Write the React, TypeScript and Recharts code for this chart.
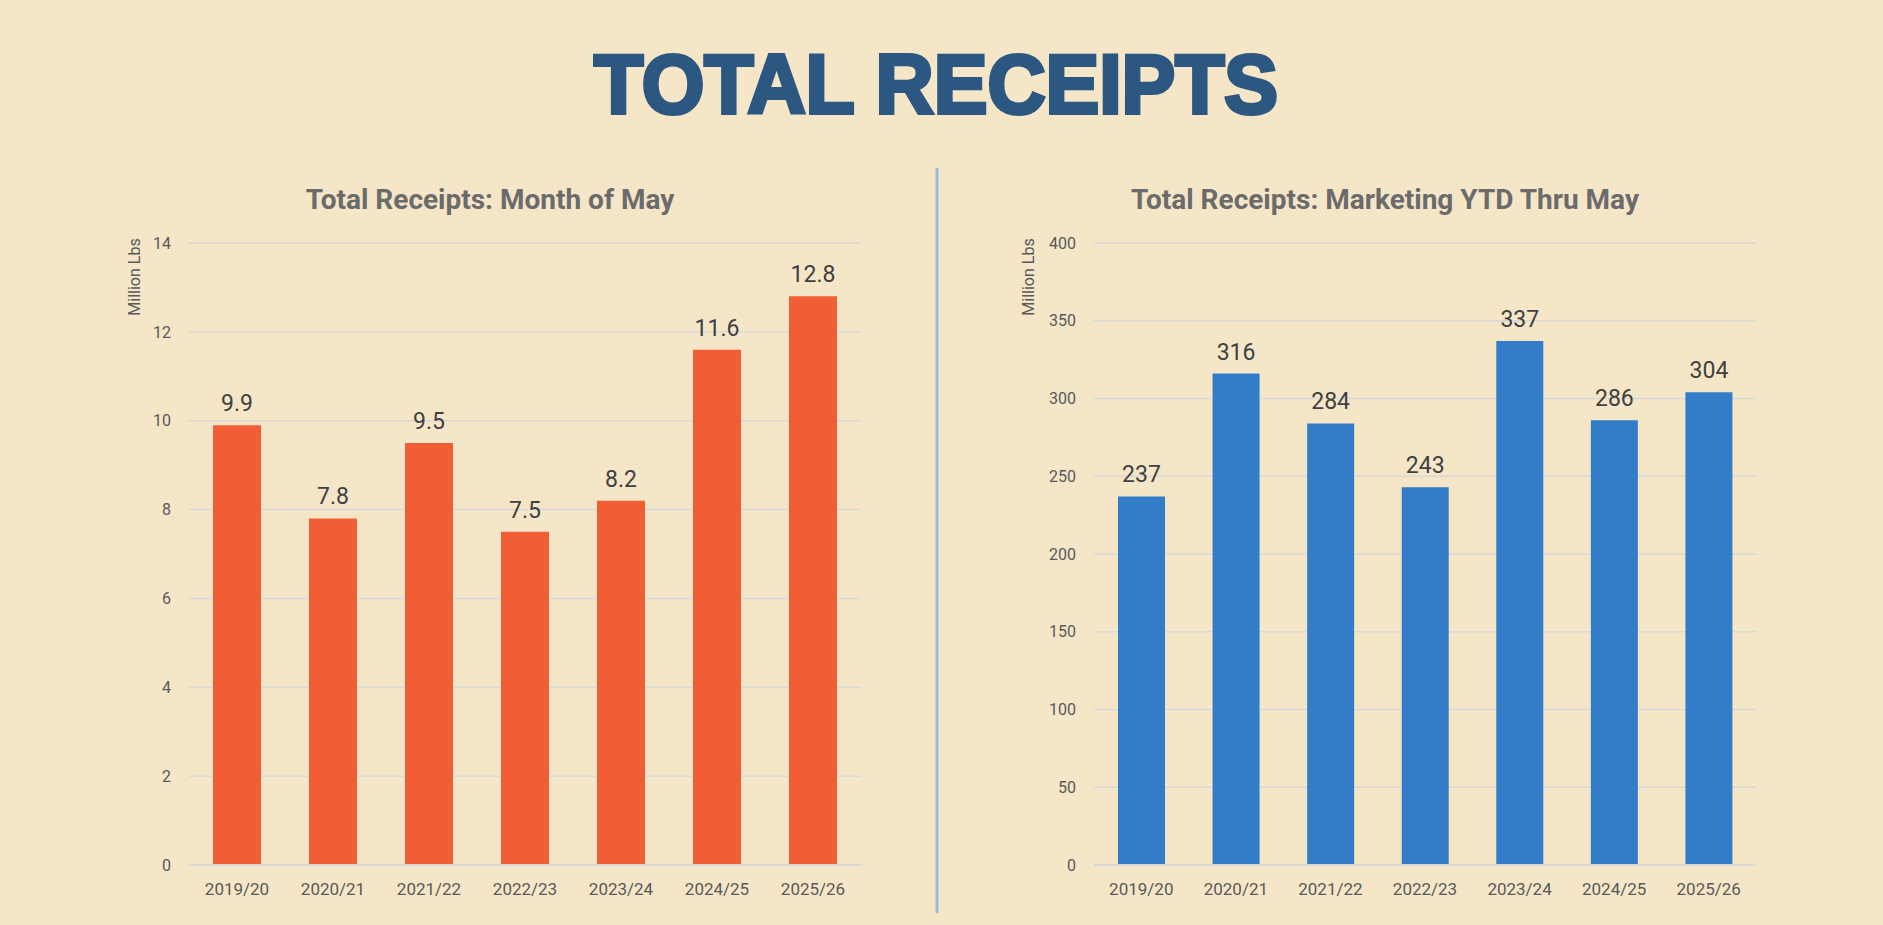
import { BarChart, Bar, XAxis, YAxis, CartesianGrid, LabelList } from "recharts";

const SEASONS = ["2019/20", "2020/21", "2021/22", "2022/23", "2023/24", "2024/25", "2025/26"];
const MAY_RECEIPTS = [9.9, 7.8, 9.5, 7.5, 8.2, 11.6, 12.8];
const YTD_RECEIPTS = [237, 316, 284, 243, 337, 286, 304];
const MAY_TICKS = [0, 2, 4, 6, 8, 10, 12, 14];
const YTD_TICKS = [0, 50, 100, 150, 200, 250, 300, 350, 400];

const BG = "#F5E6C8";
const ORANGE = "#F15E36";
const BLUE = "#337CC7";
const NAVY = "#2B5781";
const GRID = "#D9D9D9";
const TICK = "#595959";
const FONT = "Roboto, 'Liberation Sans', sans-serif";

const mayData = SEASONS.map((s, i) => ({ season: s, v: MAY_RECEIPTS[i] }));
const ytdData = SEASONS.map((s, i) => ({ season: s, v: YTD_RECEIPTS[i] }));

// ─── one panel ───────────────────────────────────────────────────────────────

function Panel({
  data, ticks, color, barSize, margin,
}: {
  data: { season: string; v: number }[];
  ticks: number[];
  color: string;
  barSize: number;
  margin: { top: number; right: number; bottom: number; left: number };
}) {
  return (
    <BarChart width={780} height={740} data={data} margin={margin} style={{ fontFamily: FONT }}>
      <CartesianGrid vertical={false} stroke={GRID} strokeWidth={1.5} />
      <XAxis
        dataKey="season"
        height={40}
        tickLine={false}
        axisLine={{ stroke: GRID, strokeWidth: 2 }}
        tickMargin={12}
        tick={{ fontSize: 17, fill: TICK }}
      />
      <YAxis
        width={50}
        domain={[0, ticks[ticks.length - 1]]}
        ticks={ticks}
        interval={0}
        tickLine={false}
        axisLine={false}
        tickMargin={12}
        tick={{ fontSize: 16, fill: TICK }}
      />
      <Bar dataKey="v" fill={color} barSize={barSize} isAnimationActive={false}>
        <LabelList dataKey="v" position="top" offset={14} fill="#404040" fontSize={23} />
      </Bar>
    </BarChart>
  );
}

export default function App() {
  return (
    <div style={{ position: "absolute", left: 0, top: 0, width: 1883, height: 925, background: BG, overflow: "hidden" }}>
      <svg width={1883} height={925} style={{ position: "absolute", left: 0, top: 0 }}>
        <text
          x={936} y={113} textAnchor="middle" fontSize={84} fontWeight={700}
          fontFamily="'Liberation Sans', Arial, sans-serif"
          fill={NAVY} stroke={NAVY} strokeWidth={4}
          textLength={684} lengthAdjust="spacingAndGlyphs"
        >
          TOTAL RECEIPTS
        </text>
        <text x={490} y={209} textAnchor="middle" fontSize={28} fontWeight={700} fontFamily={FONT} fill="#6B6B6B">
          Total Receipts: Month of May
        </text>
        <text x={1385} y={209} textAnchor="middle" fontSize={28} fontWeight={700} fontFamily={FONT} fill="#6B6B6B">
          Total Receipts: Marketing YTD Thru May
        </text>
        <line x1={937} y1={168} x2={937} y2={913} stroke="#9DBCDD" strokeWidth={3} />
        <text transform="translate(140,277) rotate(-90)" textAnchor="middle" fontSize={16} fontFamily={FONT} fill={TICK}>
          Million Lbs
        </text>
        <text transform="translate(1034,277) rotate(-90)" textAnchor="middle" fontSize={16} fontFamily={FONT} fill={TICK}>
          Million Lbs
        </text>
      </svg>

      <div style={{ position: "absolute", left: 100, top: 180 }}>
        <Panel data={mayData} ticks={MAY_TICKS} color={ORANGE} barSize={48}
          margin={{ top: 63, right: 19, bottom: 15, left: 39 }} />
      </div>
      <div style={{ position: "absolute", left: 1000, top: 180 }}>
        <Panel data={ytdData} ticks={YTD_TICKS} color={BLUE} barSize={47}
          margin={{ top: 63, right: 24, bottom: 15, left: 44 }} />
      </div>
    </div>
  );
}
